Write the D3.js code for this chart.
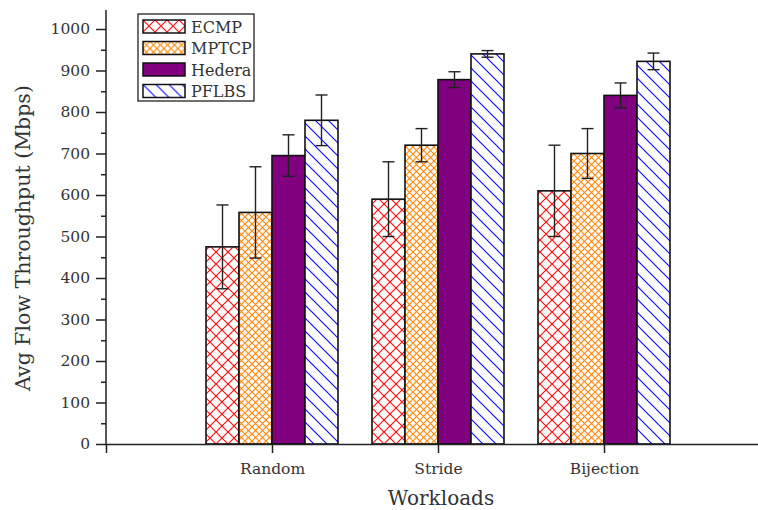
<!DOCTYPE html>
<html>
<head>
<meta charset="utf-8">
<script src="https://cdn.jsdelivr.net/npm/d3@7"></script>
<style>
  html, body { margin: 0; padding: 0; background: #fff; }
  svg { display: block; font-family: "DejaVu Serif", serif; }
</style>
</head>
<body>
<svg id="chart" width="758" height="510"></svg>
<script>
// data
var workloads = ['Random', 'Stride', 'Bijection'];
var schemes = ['ECMP', 'MPTCP', 'Hedera', 'PFLBS'];
var ecmp = [475, 590, 610];
var mptcp = [558, 720, 700];
var hedera = [695, 878, 840];
var pflbs = [780, 940, 922];
var ecmpErr = [101, 90, 110];
var mptcpErr = [110, 40, 60];
var hederaErr = [50, 19, 30];
var pflbsErr = [61, 8, 20];
var yTicks = [0, 100, 200, 300, 400, 500, 600, 700, 800, 900, 1000];

var values = [ecmp, mptcp, hedera, pflbs];
var errors = [ecmpErr, mptcpErr, hederaErr, pflbsErr];
var fills = ['url(#p-ecmp)', 'url(#p-mptcp)', '#800080', 'url(#p-pflbs)'];

var svg = d3.select('#chart');

var x = d3.scaleLinear().domain([0, 4]).range([106, 770]);
var y = d3.scaleLinear().domain([0, 1000]).range([444, 29]);
var barW = 33;

// hatch patterns
var defs = svg.append('defs');
function cross(id, size, color) {
  var p = defs.append('pattern')
    .attr('id', id)
    .attr('width', size)
    .attr('height', size)
    .attr('patternUnits', 'userSpaceOnUse');
  p.append('rect').attr('width', size).attr('height', size).attr('fill', '#fff');
  p.append('path')
    .attr('d', 'M0,0L' + size + ',' + size + 'M' + size + ',0L0,' + size)
    .attr('stroke', color)
    .attr('stroke-width', 1.2)
    .attr('fill', 'none');
}
cross('p-ecmp', 12, '#ff1010');
cross('p-mptcp', 7, '#ff8a10');
var diag = defs.append('pattern')
  .attr('id', 'p-pflbs')
  .attr('width', 13)
  .attr('height', 13)
  .attr('patternUnits', 'userSpaceOnUse');
diag.append('rect').attr('width', 13).attr('height', 13).attr('fill', '#fff');
diag.append('path')
  .attr('d', 'M-3,-3L16,16M-3,10L3,16M10,-3L16,3')
  .attr('stroke', '#1010ff')
  .attr('stroke-width', 1.2)
  .attr('fill', 'none');

// bars
workloads.forEach(function(w, i) {
  var cx = x(i + 1);
  schemes.forEach(function(s, k) {
    var v = values[k][i];
    svg.append('rect')
      .attr('x', cx - 2 * barW + k * barW)
      .attr('y', y(v))
      .attr('width', barW)
      .attr('height', y(0) - y(v))
      .attr('fill', fills[k])
      .attr('stroke', '#111')
      .attr('stroke-width', 1.6);
  });
});

// error bars
workloads.forEach(function(w, i) {
  var cx = x(i + 1);
  schemes.forEach(function(s, k) {
    var v = values[k][i], e = errors[k][i];
    var bx = cx - 2 * barW + k * barW + barW / 2;
    var g = svg.append('g').attr('stroke', '#222').attr('stroke-width', 1.4);
    g.append('line').attr('x1', bx).attr('x2', bx).attr('y1', y(v + e)).attr('y2', y(v - e));
    g.append('line').attr('x1', bx - 6).attr('x2', bx + 6).attr('y1', y(v + e)).attr('y2', y(v + e));
    g.append('line').attr('x1', bx - 6).attr('x2', bx + 6).attr('y1', y(v - e)).attr('y2', y(v - e));
  });
});

// y axis
var yMinor = svg.append('g')
  .attr('transform', 'translate(106,0)')
  .call(d3.axisLeft(y).tickValues(d3.range(50, 1000, 100)).tickSize(5).tickFormat(''));
yMinor.select('.domain').remove();
var yAxis = svg.append('g')
  .attr('transform', 'translate(106,0)')
  .call(d3.axisLeft(y).tickValues(yTicks).tickSize(10).tickPadding(6).tickSizeOuter(0)
    .tickFormat(d3.format('d')));
yAxis.select('.domain').attr('d', 'M0,' + y(0) + 'V10');

// x axis
var xAxis = svg.append('g')
  .attr('transform', 'translate(0,444)')
  .call(d3.axisBottom(x).tickValues([0, 1, 2, 3]).tickSize(9).tickPadding(10).tickSizeOuter(0)
    .tickFormat(function(d) { return d === 0 ? '' : workloads[d - 1]; }));

svg.selectAll('.domain, .tick line').attr('stroke', '#222').attr('stroke-width', 1.5);
svg.selectAll('.tick text')
  .attr('fill', '#333')
  .style('font-family', '"DejaVu Serif", serif')
  .style('font-size', '15.5px');

// axis titles
svg.append('text')
  .attr('x', 441)
  .attr('y', 505)
  .attr('text-anchor', 'middle')
  .attr('fill', '#333')
  .style('font-size', '20px')
  .text('Workloads');
svg.append('text')
  .attr('transform', 'translate(30,238) rotate(-90)')
  .attr('text-anchor', 'middle')
  .attr('fill', '#333')
  .style('font-size', '20.5px')
  .text('Avg Flow Throughput (Mbps)');

// legend
var lg = svg.append('g').attr('transform', 'translate(138,14)');
lg.append('rect')
  .attr('width', 116)
  .attr('height', 87)
  .attr('fill', '#fff')
  .attr('stroke', '#222')
  .attr('stroke-width', 1.3);
schemes.forEach(function(s, k) {
  var row = lg.append('g').attr('transform', 'translate(5,' + (6 + k * 21.5) + ')');
  row.append('rect')
    .attr('width', 42)
    .attr('height', 13)
    .attr('fill', fills[k])
    .attr('stroke', '#111')
    .attr('stroke-width', 1.5);
  row.append('text')
    .attr('x', 48)
    .attr('y', 12.5)
    .attr('fill', '#333')
    .style('font-size', '16px')
    .text(s);
});
</script>
</body>
</html>
